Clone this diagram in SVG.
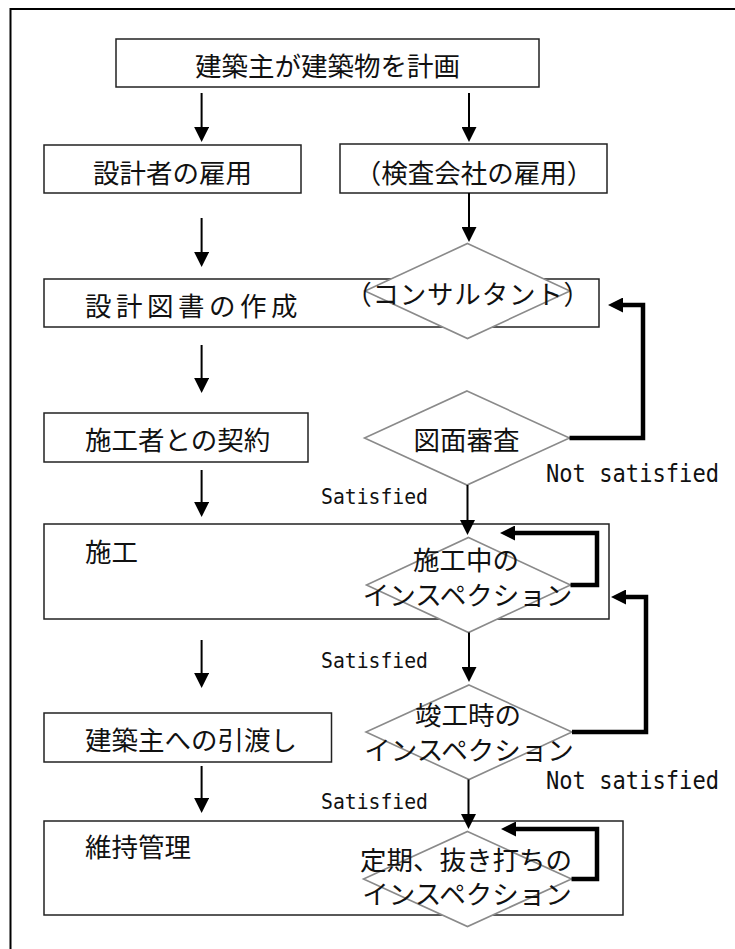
<svg xmlns="http://www.w3.org/2000/svg" width="735" height="949" viewBox="0 0 735 949">
<style>
.bg{fill:#fff}
.frame{fill:none;stroke:#000;stroke-width:2}
.box{fill:#fff;stroke:#222;stroke-width:1.5}
.dia{fill:#fff;stroke:#8a8a8a;stroke-width:1.6}
.jp{font-family:"Noto Sans CJK JP","Noto Sans CJK SC",sans-serif;font-size:26.5px;fill:#111}
.mid{text-anchor:middle}
.lat{font-family:"DejaVu Sans Mono","Liberation Mono",monospace;fill:#111}
.thin{fill:none;stroke:#000;stroke-width:2}
.thick{fill:none;stroke:#000;stroke-width:4.5;stroke-linejoin:miter}
</style>
<defs>
<marker id="ah" markerUnits="userSpaceOnUse" markerWidth="15" markerHeight="15" refX="5" refY="7.5" orient="auto" viewBox="0 0 15 15">
<path d="M0,0 L15,7.5 L0,15 z" fill="#000"/>
</marker>
</defs>
<rect class="bg" x="0" y="0" width="735" height="949"/>
<rect class="frame" x="10.5" y="9" width="800" height="1000"/>

<g id="n1"><rect class="box" x="116" y="39" width="423" height="48"/><text class="jp mid" x="327.5" y="76">建築主が建築物を計画</text></g>
<g id="n2"><rect class="box" x="44" y="145" width="257" height="48"/><text class="jp mid" x="172.5" y="183">設計者の雇用</text></g>
<g id="n3"><rect class="box" x="340" y="144" width="267" height="49"/><text class="jp mid" x="474" y="183">（検査会社の雇用）</text></g>
<g id="n4"><rect class="box" x="44" y="279" width="555" height="48"/><text class="jp" x="85" y="316" letter-spacing="4.5">設計図書の作成</text></g>
<g id="n5"><polygon class="dia" points="467.5,243.5 570,291 467.5,338.5 365,291"/><text class="jp mid" x="468" y="304" letter-spacing="0.8">（コンサルタント）</text></g>
<g id="n6"><rect class="box" x="44" y="413" width="264" height="49"/><text class="jp" x="85" y="450">施工者との契約</text></g>
<g id="n7"><polygon class="dia" points="467,391 569.5,438 467,485 364.5,438"/><text class="jp mid" x="466.5" y="450">図面審査</text></g>
<g id="n8"><rect class="box" x="44" y="524" width="565" height="95"/><text class="jp" x="85" y="562">施工</text></g>
<g id="n9"><polygon class="dia" points="468.5,537.5 570.5,585 468.5,632.5 366.5,585"/><text class="jp mid"><tspan x="466" y="570">施工中の</tspan><tspan x="467.5" y="605">インスペクション</tspan></text></g>
<g id="n10"><rect class="box" x="44" y="713" width="287.5" height="49"/><text class="jp" x="85" y="750">建築主への引渡し</text></g>
<g id="n11"><polygon class="dia" points="469,685 572,732 469,779.5 366,732"/><text class="jp mid"><tspan x="468" y="725">竣工時の</tspan><tspan x="469" y="760">インスペクション</tspan></text></g>
<g id="n12"><rect class="box" x="44" y="821" width="579" height="94"/><text class="jp" x="85" y="857">維持管理</text></g>
<g id="n13"><polygon class="dia" points="467.5,831.5 571.5,879 467.5,926.5 363.5,879"/><text class="jp mid"><tspan x="466" y="870">定期、抜き打ちの</tspan><tspan x="467" y="904">インスペクション</tspan></text></g>

<g id="labels">
<text class="lat" x="321" y="504" font-size="21" textLength="107" lengthAdjust="spacingAndGlyphs">Satisfied</text>
<text class="lat" x="321" y="668" font-size="21" textLength="107" lengthAdjust="spacingAndGlyphs">Satisfied</text>
<text class="lat" x="321" y="809" font-size="21" textLength="107" lengthAdjust="spacingAndGlyphs">Satisfied</text>
<text class="lat" x="546" y="482" font-size="24" textLength="173" lengthAdjust="spacingAndGlyphs">Not satisfied</text>
<text class="lat" x="546" y="789" font-size="24" textLength="173" lengthAdjust="spacingAndGlyphs">Not satisfied</text>
</g>

<g id="connectors">
<path class="thin" d="M201.6,93 V132" marker-end="url(#ah)"/>
<path class="thin" d="M469,93 V132" marker-end="url(#ah)"/>
<path class="thin" d="M201.6,218 V257" marker-end="url(#ah)"/>
<path class="thin" d="M469,193 V232" marker-end="url(#ah)"/>
<path class="thin" d="M201.6,345 V383" marker-end="url(#ah)"/>
<path class="thin" d="M201.6,470 V507" marker-end="url(#ah)"/>
<path class="thin" d="M201.6,640 V678" marker-end="url(#ah)"/>
<path class="thin" d="M201.6,766 V803" marker-end="url(#ah)"/>
<path class="thin" d="M467.5,485 V525" marker-end="url(#ah)"/>
<path class="thin" d="M469,632.5 V672" marker-end="url(#ah)"/>
<path class="thin" d="M468.5,779.5 V819" marker-end="url(#ah)"/>
<path class="thick" d="M569.5,438 H643 V305 H618" marker-end="url(#ah)"/>
<path class="thick" d="M572,732 H646 V597 H621" marker-end="url(#ah)"/>
<path class="thick" d="M570.5,585 H597 V533 H510" marker-end="url(#ah)"/>
<path class="thick" d="M571.5,879 H597 V829 H511" marker-end="url(#ah)"/>
</g>
</svg>
